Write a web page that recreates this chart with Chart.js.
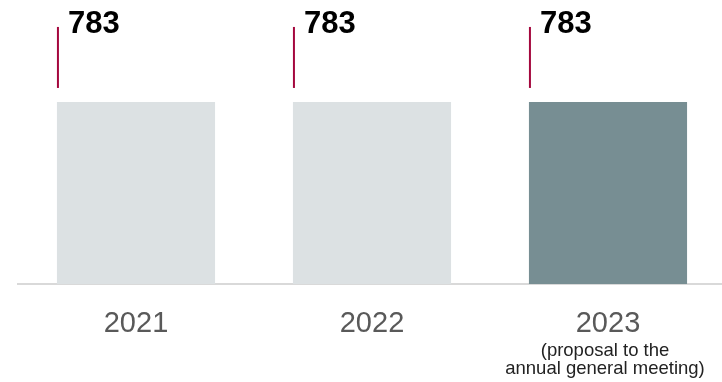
<!DOCTYPE html>
<html>
<head>
<meta charset="utf-8">
<script src="https://cdn.jsdelivr.net/npm/chart.js@4/dist/chart.umd.min.js"></script>
<style>
  html, body { margin: 0; padding: 0; background: #fff; overflow: hidden; }
  #wrap { width: 726px; height: 382px; position: relative; }
</style>
</head>
<body>
<div id="wrap"><canvas id="c"></canvas></div>
<script>
const years = ["2021", "2022", "2023"];
const values = [783, 783, 783];
const notes = ["", "", "(proposal to the\nannual general meeting)"];
const barColors = ["#dce1e3", "#dce1e3", "#778e93"];

// red marker + value label above each bar
const valueMarks = {
  id: "valueMarks",
  afterDatasetsDraw(chart) {
    const ctx = chart.ctx;
    const meta = chart.getDatasetMeta(0);
    ctx.save();
    meta.data.forEach((bar, i) => {
      const left = bar.x - bar.width / 2;
      ctx.strokeStyle = "#a4073d";
      ctx.lineWidth = 2;
      ctx.beginPath();
      ctx.moveTo(left + 1, bar.y - 14);
      ctx.lineTo(left + 1, bar.y - 75);
      ctx.stroke();
      ctx.fillStyle = "#000";
      ctx.font = "bold 31px 'Liberation Sans', Arial, sans-serif";
      ctx.textAlign = "left";
      ctx.textBaseline = "alphabetic";
      ctx.fillText(values[i], left + 11, bar.y - 69);
    });
    // small notes under year labels
    const x = chart.scales.x;
    ctx.fillStyle = "#222";
    ctx.font = "18.5px 'Liberation Sans', Arial, sans-serif";
    ctx.textAlign = "center";
    notes.forEach((n, i) => {
      if (!n) return;
      const cx = x.getPixelForValue(i) - 3;
      n.split("\n").forEach((line, k) => {
        ctx.fillText(line, cx, 356 + k * 18);
      });
    });
    ctx.restore();
  }
};

new Chart(document.getElementById("c"), {
  type: "bar",
  data: {
    labels: years,
    datasets: [{ data: values, backgroundColor: barColors, barPercentage: 0.67, categoryPercentage: 1 }]
  },
  options: {
    responsive: true,
    maintainAspectRatio: false,
    animation: false,
    layout: { padding: { left: 18, right: 0, top: 5, bottom: 0 } },
    plugins: { legend: { display: false }, tooltip: { enabled: false } },
    scales: {
      x: {
        grid: { display: false, drawTicks: false },
        border: { display: true, color: "#d9d9d9", width: 2 },
        ticks: {
          color: "#595959",
          padding: 23,
          font: { family: "'Liberation Sans', Arial, sans-serif", size: 29 }
        },
        afterFit(scale) { scale.height = 98; }
      },
      y: {
        display: false,
        min: 0,
        max: 1200
      }
    }
  },
  plugins: [valueMarks]
});
</script>
</body>
</html>
